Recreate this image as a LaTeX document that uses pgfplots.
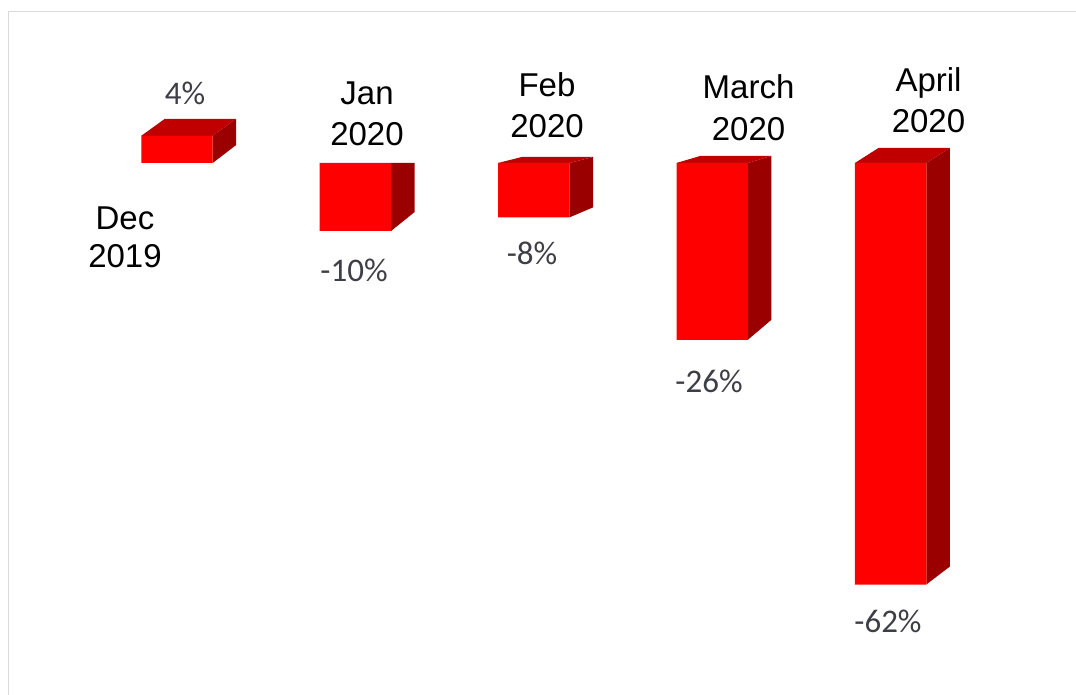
\documentclass[border=0pt]{standalone}
\usepackage{pgfplots}
\pgfplotsset{compat=1.18}
\usepackage{fontspec}
\setmainfont{Liberation Sans}
\newfontfamily\calib{Carlito}
\definecolor{frontred}{RGB}{255,0,0}
\definecolor{topred}{RGB}{192,0,0}
\definecolor{sidered}{RGB}{155,0,0}
\definecolor{pctgray}{RGB}{62,62,70}
\definecolor{framegray}{RGB}{218,218,218}
\tikzset{
  cat/.style={font=\fontsize{33}{40}\selectfont, text=black, anchor=base, inner sep=0pt},
  pct/.style={font=\calib\fontsize{33}{40}\selectfont, text=pctgray, anchor=base, inner sep=0pt},
}
\begin{document}
\begin{tikzpicture}
\begin{axis}[
  scale only axis, width=1076pt, height=695pt,
  xmin=-0.9922, xmax=5.0392, ymin=-78.24, ymax=23.97,
  hide axis, clip=false,
]
% frame
\draw[framegray, line width=1.5pt] (axis cs:-0.9445,-78.24) -- (axis cs:-0.9445,22.28) -- (axis cs:5.0392,22.28);
% side faces
\addplot[fill=sidered, draw=none] coordinates {(0.2,0) (0.2,4) (0.332,6.5) (0.332,2.65)} -- cycle;
\addplot[fill=sidered, draw=none] coordinates {(1.2,0) (1.332,0) (1.332,-7.21) (1.2,-10)} -- cycle;
\addplot[fill=sidered, draw=none] coordinates {(2.2,0) (2.332,0.88) (2.332,-6.53) (2.2,-8)} -- cycle;
\addplot[fill=sidered, draw=none] coordinates {(3.2,0) (3.332,1.03) (3.332,-23.06) (3.2,-26)} -- cycle;
\addplot[fill=sidered, draw=none] coordinates {(4.2,0) (4.332,2.21) (4.332,-59.35) (4.2,-62)} -- cycle;
% top faces
\addplot[fill=topred, draw=none] coordinates {(-0.2,4) (0.2,4) (0.332,6.5) (-0.068,6.5)} -- cycle;
\addplot[fill=topred, draw=none] coordinates {(1.8,0) (2.2,0) (2.332,0.88) (1.932,0.88)} -- cycle;
\addplot[fill=topred, draw=none] coordinates {(2.8,0) (3.2,0) (3.332,1.03) (2.932,1.03)} -- cycle;
\addplot[fill=topred, draw=none] coordinates {(3.8,0) (4.2,0) (4.332,2.21) (3.932,2.21)} -- cycle;
% front faces
\addplot[ybar, bar width=0.4, fill=frontred, draw=none] coordinates {(0,4) (1,-10) (2,-8) (3,-26) (4,-62)};
% category labels
\node[cat] at (axis cs:-0.2915,-9.853) {Dec};
\node[cat] at (axis cs:-0.2915,-15.441) {2019};
\node[cat] at (axis cs:1.0650,8.529) {Jan};
\node[cat] at (axis cs:1.0650,2.5) {2020};
\node[cat] at (axis cs:2.0740,9.706) {Feb};
\node[cat] at (axis cs:2.0740,3.676) {2020};
\node[cat] at (axis cs:3.2035,9.412) {March};
\node[cat] at (axis cs:3.2035,3.235) {2020};
\node[cat] at (axis cs:4.2124,10.441) {April};
\node[cat] at (axis cs:4.2124,4.412) {2020};
% value labels
\node[pct] at (axis cs:0.0448,8.529) {4\%};
\node[pct] at (axis cs:0.9922,-17.5) {-10\%};
\node[pct] at (axis cs:1.9899,-15.0) {-8\%};
\node[pct] at (axis cs:2.9821,-33.824) {-26\%};
\node[pct] at (axis cs:3.9854,-69.118) {-62\%};
\end{axis}
\pgfresetboundingbox
\path[use as bounding box] (current axis.south west) rectangle (current axis.north east);
\end{tikzpicture}
\end{document}
